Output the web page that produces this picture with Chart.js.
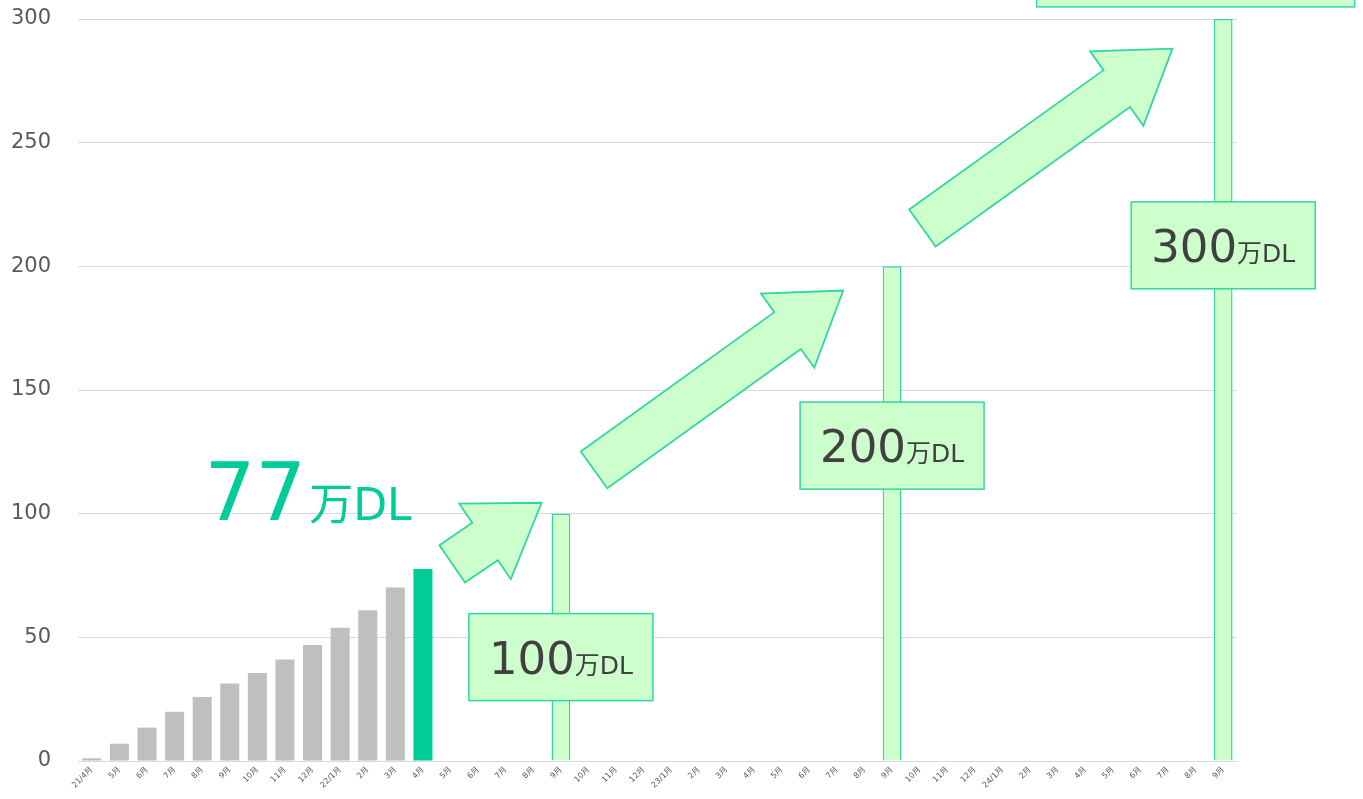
<!DOCTYPE html>
<html lang="ja">
<head>
<meta charset="UTF-8">
<title>ダウンロード数推移</title>
<style>
  html, body { margin: 0; padding: 0; background: #fff; overflow: hidden; }
  #wrap { position: relative; width: 1363px; height: 799px; }
</style>
</head>
<body>
<div id="wrap"><canvas id="c"></canvas></div>

<script src="https://cdnjs.cloudflare.com/ajax/libs/Chart.js/4.4.1/chart.umd.js"></script>
<script>
const FONT = "'DejaVu Sans', 'Noto Sans CJK JP', sans-serif";

// months 21/4 .. 24/9
const months = [
  '21/4月','5月','6月','7月','8月','9月','10月','11月','12月',
  '22/1月','2月','3月','4月','5月','6月','7月','8月','9月','10月','11月','12月',
  '23/1月','2月','3月','4月','5月','6月','7月','8月','9月','10月','11月','12月',
  '24/1月','2月','3月','4月','5月','6月','7月','8月','9月'
];

// cumulative downloads (万DL), actual up to 22/4
const actual = [1.1, 7.0, 13.5, 19.9, 25.9, 31.3, 35.6, 41.0, 46.9, 53.9, 60.9, 70.1, 77.6];
const actualColors = ['#BFBFBF','#BFBFBF','#BFBFBF','#BFBFBF','#BFBFBF','#BFBFBF','#BFBFBF','#BFBFBF','#BFBFBF','#BFBFBF','#BFBFBF','#BFBFBF','#00CC99'];

// targets
const targetIdx = [17, 29, 41];
const targetVal = [100, 200, 300];
const targetText = ['100', '200', '300'];
const boxVal = [42, 127.5, 208.5];

// arrows: [tailIdx, tailVal, tipIdx, tipVal]
const arrows = [
  [13.06, 79.7, 16.30, 104.4],
  [18.20, 117.7, 27.23, 190.2],
  [30.10, 215.5, 39.16, 288.0]
];

const actualData = months.map((m, i) => i < actual.length ? actual[i] : null);
const targetData = months.map((m, i) => { const k = targetIdx.indexOf(i); return k >= 0 ? targetVal[k] : null; });

const GREEN_LINE = '#33D6A0';
const GREEN_FILL = '#CCFFCC';

const deco = {
  id: 'deco',
  afterDatasetsDraw(chart) {
    const {ctx, scales:{x, y}} = chart;
    ctx.save();

    // partial box at the top
    ctx.fillStyle = GREEN_FILL; ctx.strokeStyle = GREEN_LINE; ctx.lineWidth = 1.5;
    const tx = x.getPixelForValue(40.0), ty = y.getPixelForValue(304.9);
    ctx.fillRect(tx - 159, ty - 70, 318, 70);
    ctx.strokeRect(tx - 159, ty - 70, 318, 70);

    // arrows
    arrows.forEach(a => {
      const t = [x.getPixelForValue(a[0]), y.getPixelForValue(a[1])];
      const p = [x.getPixelForValue(a[2]), y.getPixelForValue(a[3])];
      const L = Math.hypot(p[0]-t[0], p[1]-t[1]);
      const d = [(p[0]-t[0])/L, (p[1]-t[1])/L];
      const n = [-d[1], d[0]];
      const sh = 22.7, hh = 45.7, hl = 68.5;
      const b = [p[0]-d[0]*hl, p[1]-d[1]*hl];
      const pts = [
        [t[0]-n[0]*sh, t[1]-n[1]*sh],
        [b[0]-n[0]*sh, b[1]-n[1]*sh],
        [b[0]-n[0]*hh, b[1]-n[1]*hh],
        p,
        [b[0]+n[0]*hh, b[1]+n[1]*hh],
        [b[0]+n[0]*sh, b[1]+n[1]*sh],
        [t[0]+n[0]*sh, t[1]+n[1]*sh]
      ];
      ctx.beginPath();
      pts.forEach((q, i) => i ? ctx.lineTo(q[0], q[1]) : ctx.moveTo(q[0], q[1]));
      ctx.closePath();
      ctx.fillStyle = GREEN_FILL; ctx.fill();
      ctx.strokeStyle = GREEN_LINE; ctx.lineWidth = 1.8; ctx.stroke();
    });

    // target boxes
    targetIdx.forEach((ix, k) => {
      const cx = x.getPixelForValue(ix), cy = y.getPixelForValue(boxVal[k]);
      const w = 184, h = 87;
      ctx.fillStyle = GREEN_FILL; ctx.fillRect(cx - w/2, cy - h/2, w, h);
      ctx.strokeStyle = GREEN_LINE; ctx.lineWidth = 1.5; ctx.strokeRect(cx - w/2, cy - h/2, w, h);
      ctx.fillStyle = '#404040';
      ctx.textBaseline = 'alphabetic';
      ctx.font = '45px ' + FONT;
      const w1 = ctx.measureText(targetText[k]).width;
      ctx.font = '25px ' + FONT;
      const w2 = ctx.measureText('万DL').width;
      const x0 = cx - (w1 + w2) / 2, base = cy + 16.5;
      ctx.font = '45px ' + FONT; ctx.textAlign = 'left';
      ctx.fillText(targetText[k], x0, base);
      ctx.font = '25px ' + FONT;
      ctx.fillText('万DL', x0 + w1, base);
    });

    // current value label
    const rx = x.getPixelForValue(11.59), by = y.getPixelForValue(97.4);
    ctx.fillStyle = '#00CC99';
    ctx.textAlign = 'right';
    ctx.font = '44px ' + FONT;
    const wu = ctx.measureText('万DL').width;
    ctx.fillText('万DL', rx, by);
    ctx.font = '80px ' + FONT;
    ctx.fillText('77', rx - wu - 3, by);
    ctx.restore();
  }
};

new Chart(document.getElementById('c'), {
  type: 'bar',
  data: {
    labels: months,
    datasets: [
      { label: '実績', data: actualData, backgroundColor: actualColors, borderWidth: 0,
        barPercentage: 0.69, categoryPercentage: 1 },
      { label: '目標', data: targetData, backgroundColor: GREEN_FILL, borderColor: GREEN_LINE, borderWidth: 1.5,
        barPercentage: 0.68, categoryPercentage: 1 }
    ]
  },
  options: {
    responsive: true, maintainAspectRatio: false, animation: false,
    layout: { padding: { top: 0, right: 126, left: 0, bottom: 0 } },
    plugins: { legend: { display: false }, tooltip: { enabled: false } },
    scales: {
      x: {
        stacked: true,
        grid: { display: false, drawTicks: false },
        border: { display: true, color: '#D9D9D9', width: 1 },
        ticks: { color: '#595959', font: { size: 8, family: FONT }, minRotation: 45, maxRotation: 45, autoSkip: false, padding: 4 },
        afterFit: s => { s.height = 38; }
      },
      y: {
        min: 0, max: 300,
        grid: { color: '#D9D9D9', drawTicks: false },
        border: { display: false },
        ticks: { stepSize: 50, color: '#595959', font: { size: 21, family: FONT }, padding: 27 },
        afterFit: s => { s.width = 78; s.paddingTop = 19; s.paddingBottom = 0; }
      }
    }
  },
  plugins: [deco]
});
</script>
</body>
</html>
